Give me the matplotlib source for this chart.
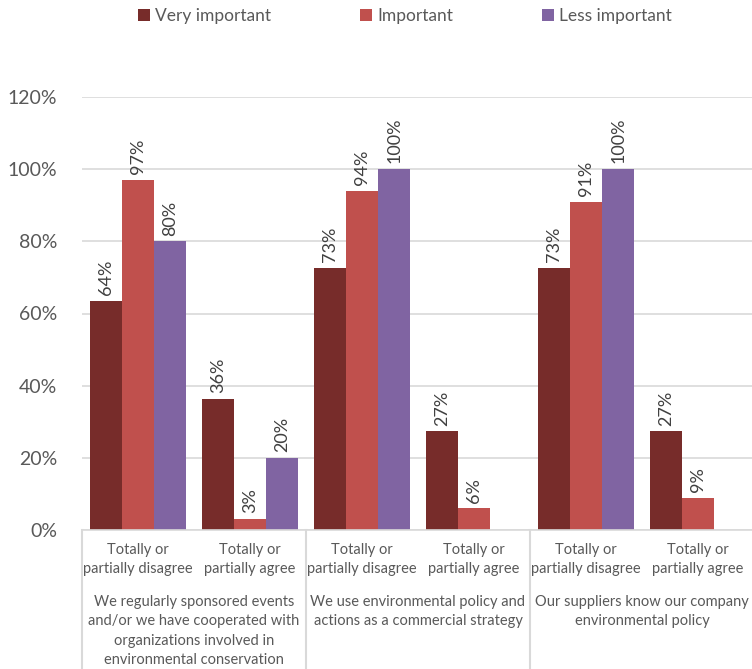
import matplotlib

matplotlib.use("Agg")
import matplotlib.pyplot as plt
import numpy as np
from matplotlib.patches import Patch

plt.rcParams["font.family"] = ["Lato", "DejaVu Sans"]

# data (percent)
series = ["Very important", "Important", "Less important"]
sub_labels = ["Totally or\npartially disagree", "Totally or\npartially agree"] * 3
group_labels = [
    "We regularly sponsored events\nand/or we have cooperated with\norganizations involved in\nenvironmental conservation",
    "We use environmental policy and\nactions as a commercial strategy",
    "Our suppliers know our company\nenvironmental policy",
]
very_important = [63.6, 36.4, 72.7, 27.3, 72.7, 27.3]
important = [97.0, 3.0, 94.0, 6.0, 91.0, 9.0]
less_important = [80.0, 20.0, 100.0, 0.0, 100.0, 0.0]
colors = ["#772C2A", "#C0504D", "#8064A2"]

TEXT = "#595959"
GRID = "#D9D9D9"

fig = plt.figure(figsize=(7.52, 6.69), dpi=100)
ax = fig.add_axes([82 / 752, 1 - 530 / 669, 672 / 752, 433 / 669])

x = np.arange(len(sub_labels))
w = 0.286
for k, (vals, c) in enumerate(zip([very_important, important, less_important], colors)):
    xs = x + (k - 1) * w
    ax.bar(xs, vals, width=w, color=c, zorder=2)
    for xi, v in zip(xs, vals):
        if v > 0:
            ax.text(xi, v + 1.6, f"{v:.0f}%", rotation=90, ha="center", va="bottom",
                    fontsize=13, color="#404040")

ax.set_xlim(-0.5, 5.5)
ax.set_ylim(0, 120)
ax.set_yticks(np.arange(0, 121, 20))
ax.set_yticklabels([f"{t}%" for t in range(0, 121, 20)], fontsize=14, color=TEXT)
ax.yaxis.grid(True, color=GRID, lw=1.2, zorder=0)
ax.tick_params(axis="y", length=0, pad=18)
ax.tick_params(axis="x", length=0)
ax.set_xticks([])
for s in ["left", "right", "top"]:
    ax.spines[s].set_visible(False)
ax.spines["bottom"].set_color(GRID)
ax.spines["bottom"].set_linewidth(1.2)

# multi-level category axis
trans = ax.get_xaxis_transform()
for i, lab in enumerate(sub_labels):
    ax.text(i, -0.03, lab, transform=trans, ha="center", va="top", fontsize=10.5,
            color=TEXT, linespacing=1.5)
for g, lab in enumerate(group_labels):
    ax.text(2 * g + 0.5, -0.15, lab, transform=trans, ha="center", va="top",
            fontsize=10.5, color=TEXT, linespacing=1.5)
for b in [-0.5, 1.5, 3.5, 5.5]:
    ax.plot([b, b], [0, -0.34], transform=trans, color=GRID, lw=1.5, clip_on=False)

handles = [Patch(facecolor=c, label=s) for c, s in zip(colors, series)]
fig.legend(handles=handles, loc="center", bbox_to_anchor=(405 / 752, 1 - 16 / 669), ncol=3,
           frameon=False, fontsize=12.5, labelcolor=TEXT, handlelength=0.7, handleheight=0.7,
           handletextpad=0.3, columnspacing=5.1)

fig.savefig("out.png", dpi=100)
